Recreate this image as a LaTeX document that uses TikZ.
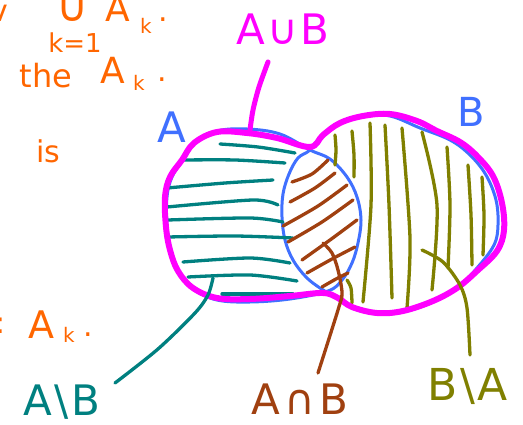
\documentclass[tikz,border=0pt]{standalone}
\usepackage{fontspec}
\setmainfont{DejaVu Sans}
\newcommand\hsz[1]{\fontsize{#1}{#1}\selectfont}
\definecolor{cmag}{RGB}{255,0,255}
\definecolor{cblue}{RGB}{64,112,255}
\definecolor{cteal}{RGB}{0,128,128}
\definecolor{cbrown}{RGB}{160,64,16}
\definecolor{colive}{RGB}{128,128,0}
\definecolor{corange}{RGB}{255,102,0}
\begin{document}
\begin{tikzpicture}[x=1pt,y=-1pt,line cap=round,line join=round,
  union/.style={draw=cmag,line width=6pt},
  setline/.style={draw=cblue,line width=3pt},
  hA/.style={draw=cteal,line width=3.3pt},
  hI/.style={draw=cbrown,line width=3.3pt},
  hB/.style={draw=colive,line width=3.3pt},
  lbl/.style={inner sep=0pt,outer sep=0pt},
  note/.style={lbl,text=corange,anchor=base}]
\useasboundingbox[fill=white] (0,0) rectangle (523,425);

% sets A and B (blue outlines)
\draw[setline] plot[smooth cycle,tension=0.6] coordinates {(310,150) (330,159) (347,177) (357,197) (361,220) (358,243) (352,263) (342,280) (328,291) (290,299) (250,302) (217,300) (193,289) (179,272) (171,250) (167,227) (167,197) (172,177) (183,160) (195,143) (217,131) (247,129) (280,134)};
\draw[setline] plot[smooth cycle,tension=0.6] coordinates {(310,150) (298,158) (289,174) (283,194) (282,217) (285,240) (293,260) (306,277) (320,288) (337,298) (352,308) (377,314) (403,312) (433,302) (457,288) (477,268) (494,245) (498,225) (496,200) (486,175) (470,155) (450,140) (420,128) (390,116) (363,116) (340,122) (323,134)};

% A \ B hatching
\draw[hA] plot[smooth] coordinates {(220,144) (258,147) (295,153)};
\draw[hA] plot[smooth] coordinates {(183,160) (235,160) (285,163)};
\draw[hA] plot[smooth] coordinates {(167,188) (225,183) (273,180)};
\draw[hA] plot[smooth] coordinates {(167,207) (253,200) (278,205)};
\draw[hA] plot[smooth] coordinates {(168,220) (250,218) (283,222)};
\draw[hA] plot[smooth] coordinates {(168,237) (235,236) (293,238)};
\draw[hA] plot[smooth] coordinates {(183,262) (250,258) (290,263)};
\draw[hA] plot[smooth] coordinates {(188,277) (250,275) (297,281)};
\draw[hA] plot[smooth] coordinates {(222,294) (260,294) (293,294)};

% A cap B hatching
\draw[hI] plot[smooth] coordinates {(292,182) (312,174) (328,160)};
\draw[hI] plot[smooth] coordinates {(290,202) (315,188) (335,173)};
\draw[hI] plot[smooth] coordinates {(283,226) (318,206) (347,185)};
\draw[hI] plot[smooth] coordinates {(288,242) (322,222) (353,200)};
\draw[hI] plot[smooth] coordinates {(302,260) (330,240) (357,220)};
\draw[hI] plot[smooth] coordinates {(307,273) (332,259) (355,247)};
\draw[hI] plot[smooth] coordinates {(322,287) (336,279) (348,273)};

% B \ A hatching
\draw[hB] plot[smooth] coordinates {(335,135) (336,150) (335,165)};
\draw[hB] plot[smooth] coordinates {(352,131) (354,155) (354,177)};
\draw[hB] plot[smooth] coordinates {(370,123) (371,205) (363,302)};
\draw[hB] plot[smooth] coordinates {(385,125) (389,205) (392,298)};
\draw[hB] plot[smooth] coordinates {(402,128) (410,238) (407,308)};
\draw[hB] plot[smooth] coordinates {(422,132) (437,205) (432,290)};
\draw[hB] plot[smooth] coordinates {(447,147) (450,205) (448,268)};
\draw[hB] plot[smooth] coordinates {(468,165) (471,215) (472,265)};
\draw[hB] plot[smooth] coordinates {(482,177) (484,215) (483,255)};
\draw[hB] plot[smooth] coordinates {(347,280) (351,288) (352,303)};

% union outline
\draw[union] plot[smooth cycle,tension=0.6] coordinates {(310,147) (323,135) (340,123) (363,116) (390,114) (417,121) (437,131) (460,142) (477,156) (493,176) (502,203) (504,230) (497,251) (477,271) (457,288) (433,301) (403,311) (377,313) (352,307) (338,298) (323,293) (290,296) (250,299) (217,298) (193,288) (178,271) (170,250) (166,227) (165,197) (170,177) (182,160) (194,143) (217,132) (247,133) (277,138)};

% labels
\node[lbl,text=cblue,font=\hsz{42}] (labA) at (172,127) {A};
\node[lbl,text=cblue,font=\hsz{40}] (labB) at (471,112) {B};
\node[lbl,text=cmag,font=\hsz{42}] (labU) at (283,29) {A\hspace{2pt}∪\hspace{2pt}B};
\node[lbl,text=cteal,font=\hsz{42}] (labAB) at (62,402) {A\hspace{3pt}\textbackslash\hspace{3pt}B};
\node[lbl,text=cbrown,font=\hsz{42}] (labI) at (300,399) {A\hspace{4pt}∩\hspace{4pt}B};
\node[lbl,text=colive,font=\hsz{44},anchor=west] (labBA) at (427,387) {B\hspace{3pt}\textbackslash\hspace{3pt}A};

% leaders
\coordinate (uS) at (268,62); \coordinate (uE) at (250,130);
\draw[union,line width=5pt] plot[smooth] coordinates {(uS) (259,87) (253,110) (uE)};
\coordinate (tS) at (213,278); \coordinate (tE) at (115,383);
\draw[hA] plot[smooth] coordinates {(tS) (208,295) (195,313) (158,349) (tE)};
\coordinate (iS) at (323,243); \coordinate (iE) at (318,373);
\draw[hI] plot[smooth] coordinates {(iS) (332,253) (338,270) (342,293) (338,310) (iE)};
\coordinate (oS) at (422,250); \coordinate (oE) at (470,355);
\draw[hB] plot[smooth] coordinates {(oS) (443,262) (460,285) (467,308) (oE)};

% orange notes (cut off at the page edge, as in the reference)
\node[note,font=\hsz{30}] (n0) at (-1,22) {v};
\node[note,font=\hsz{44}] (n1) at (73,22) {∪};
\node[note,font=\hsz{36}] (n2) at (118,22) {A};
\node[note,font=\hsz{20}] (n3) at (146,34) {k};
\node[note,font=\hsz{30}] (n4) at (163,22) {.};
\node[note,font=\hsz{26}] (n5) at (75,53) {k=1};
\node[note,font=\hsz{32}] (n6) at (46,88) {the};
\node[note,font=\hsz{36}] (n7) at (113,84) {A};
\node[note,font=\hsz{20}] (n8) at (139,91) {k};
\node[note,font=\hsz{30}] (n9) at (162,82) {.};
\node[note,font=\hsz{30}] (n10) at (48,163) {is};
\node[note,font=\hsz{30}] (n11) at (1,334) {:};
\node[note,font=\hsz{38}] (n12) at (41,338) {A};
\node[note,font=\hsz{20}] (n13) at (69,343) {k};
\node[note,font=\hsz{30}] (n14) at (88,337) {.};
\end{tikzpicture}
\end{document}
